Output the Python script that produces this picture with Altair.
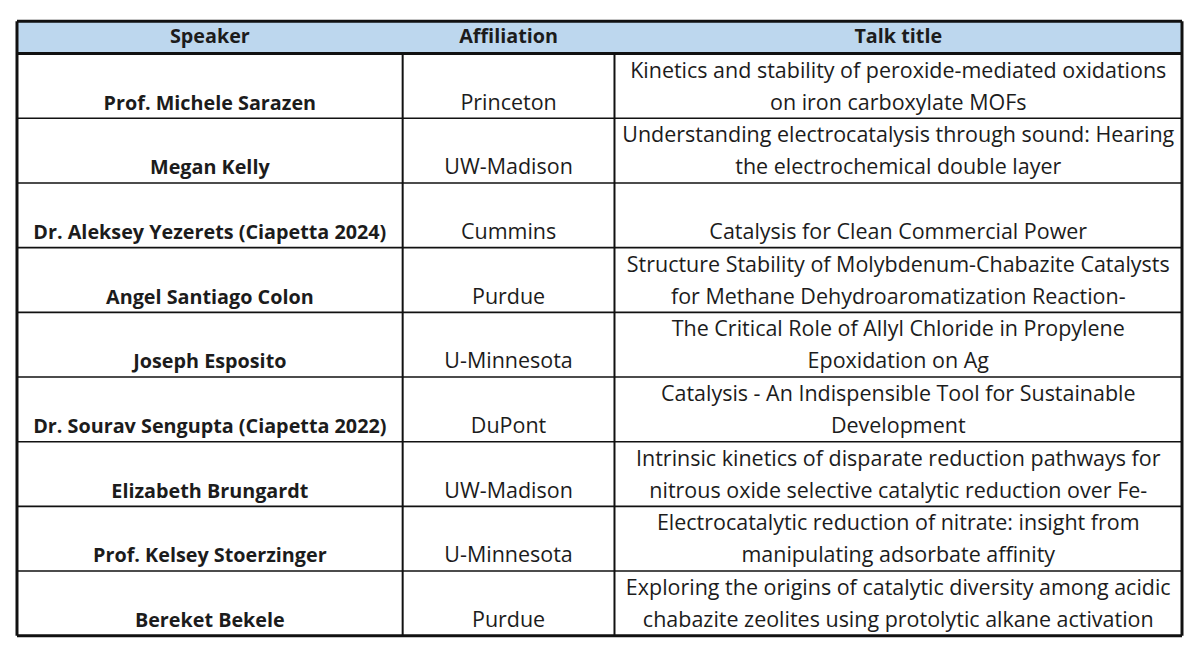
import altair as alt
import pandas as pd

headers = ["Speaker", "Affiliation", "Talk title"]
speakers = [
    "Prof. Michele Sarazen",
    "Megan Kelly",
    "Dr. Aleksey Yezerets (Ciapetta 2024)",
    "Angel Santiago Colon",
    "Joseph Esposito",
    "Dr. Sourav Sengupta (Ciapetta 2022)",
    "Elizabeth Brungardt",
    "Prof. Kelsey Stoerzinger",
    "Bereket Bekele",
]
affiliations = [
    "Princeton", "UW-Madison", "Cummins", "Purdue", "U-Minnesota",
    "DuPont", "UW-Madison", "U-Minnesota", "Purdue",
]
titles = [
    ["Kinetics and stability of peroxide-mediated oxidations", "on iron carboxylate MOFs"],
    ["Understanding electrocatalysis through sound: Hearing", "the electrochemical double layer"],
    ["Catalysis for Clean Commercial Power"],
    ["Structure Stability of Molybdenum-Chabazite Catalysts", "for Methane Dehydroaromatization Reaction-"],
    ["The Critical Role of Allyl Chloride in Propylene", "Epoxidation on Ag"],
    ["Catalysis - An Indispensible Tool for Sustainable", "Development"],
    ["Intrinsic kinetics of disparate reduction pathways for", "nitrous oxide selective catalytic reduction over Fe-"],
    ["Electrocatalytic reduction of nitrate: insight from", "manipulating adsorbate affinity"],
    ["Exploring the origins of catalytic diversity among acidic", "chabazite zeolites using protolytic alkane activation"],
]

# ---- layout (table units) ----
W_PX, H_PX = 1166, 615
edges = [0, 386, 598, 1166]          # column edges in x units (pixels of plot)
centers = [(edges[i] + edges[i + 1]) / 2 for i in range(3)]
HEADER_H = 0.5
n = len(speakers)
TOTAL = HEADER_H + n
LINE_Y = [0.28, 0.775]               # line centres within a row (fraction of row)
FONT = "Open Sans"
FS_NORMAL = 21.5
FS_BOLD = 19.8
INK = "#1c1c1c"

xs = alt.Scale(domain=[0, edges[-1]], nice=False, zero=False)
ys = alt.Scale(domain=[0, TOTAL], nice=False, zero=False, reverse=True)

# header background
hdr = pd.DataFrame([{"x": edges[0], "x2": edges[-1], "y": 0, "y2": HEADER_H}])
header_bg = alt.Chart(hdr).mark_rect(color="#BDD7EE").encode(
    x=alt.X("x:Q", scale=xs, axis=None), x2="x2:Q",
    y=alt.Y("y:Q", scale=ys, axis=None), y2="y2:Q",
)

# text records
recs = []
for j, h in enumerate(headers):
    recs.append({"x": centers[j], "y": HEADER_H / 2, "t": h, "kind": "bold"})
for i in range(n):
    top = HEADER_H + i
    recs.append({"x": centers[0], "y": top + LINE_Y[1], "t": speakers[i], "kind": "bold"})
    recs.append({"x": centers[1], "y": top + LINE_Y[1], "t": affiliations[i], "kind": "normal"})
    lines = titles[i]
    offs = LINE_Y[-len(lines):]
    for ln, off in zip(lines, offs):
        recs.append({"x": centers[2], "y": top + off, "t": ln, "kind": "normal"})
tdf = pd.DataFrame(recs)

def text_layer(kind, weight, size):
    return alt.Chart(tdf).transform_filter(alt.datum.kind == kind).mark_text(
        font=FONT, fontSize=size, fontWeight=weight, color=INK,
        align="center", baseline="middle",
    ).encode(
        x=alt.X("x:Q", scale=xs, axis=None),
        y=alt.Y("y:Q", scale=ys, axis=None),
        text="t:N",
    )

# grid lines
hl = []
for k in range(n + 2):
    yv = 0 if k == 0 else HEADER_H + (k - 1)
    w = 3 if k in (0, 1, n + 1) else 1.6
    hl.append({"x": edges[0], "x2": edges[-1], "y": yv, "w": w})
hdf = pd.DataFrame(hl)
vl = [
    {"x": edges[0], "y": 0, "y2": TOTAL, "w": 3},
    {"x": edges[-1], "y": 0, "y2": TOTAL, "w": 3},
    {"x": edges[1], "y": HEADER_H, "y2": TOTAL, "w": 2},
    {"x": edges[2], "y": HEADER_H, "y2": TOTAL, "w": 2},
]
vdf = pd.DataFrame(vl)

hrules = alt.Chart(hdf).mark_rule(color="#111111").encode(
    x=alt.X("x:Q", scale=xs, axis=None), x2="x2:Q",
    y=alt.Y("y:Q", scale=ys, axis=None),
    strokeWidth=alt.StrokeWidth("w:Q", scale=None),
)
vrules = alt.Chart(vdf).mark_rule(color="#111111").encode(
    x=alt.X("x:Q", scale=xs, axis=None),
    y=alt.Y("y:Q", scale=ys, axis=None), y2="y2:Q",
    strokeWidth=alt.StrokeWidth("w:Q", scale=None),
)

chart = alt.layer(
    header_bg,
    text_layer("bold", "bold", FS_BOLD),
    text_layer("normal", "normal", FS_NORMAL),
    hrules, vrules,
).properties(
    width=W_PX, height=H_PX,
    padding={"left": 9, "top": 13, "right": 10, "bottom": 10},
    autosize=alt.AutoSizeParams(type="none"),
    background="white",
).configure_view(strokeWidth=0)

chart.save("out.html", embed_options={"renderer": "svg", "actions": False})
